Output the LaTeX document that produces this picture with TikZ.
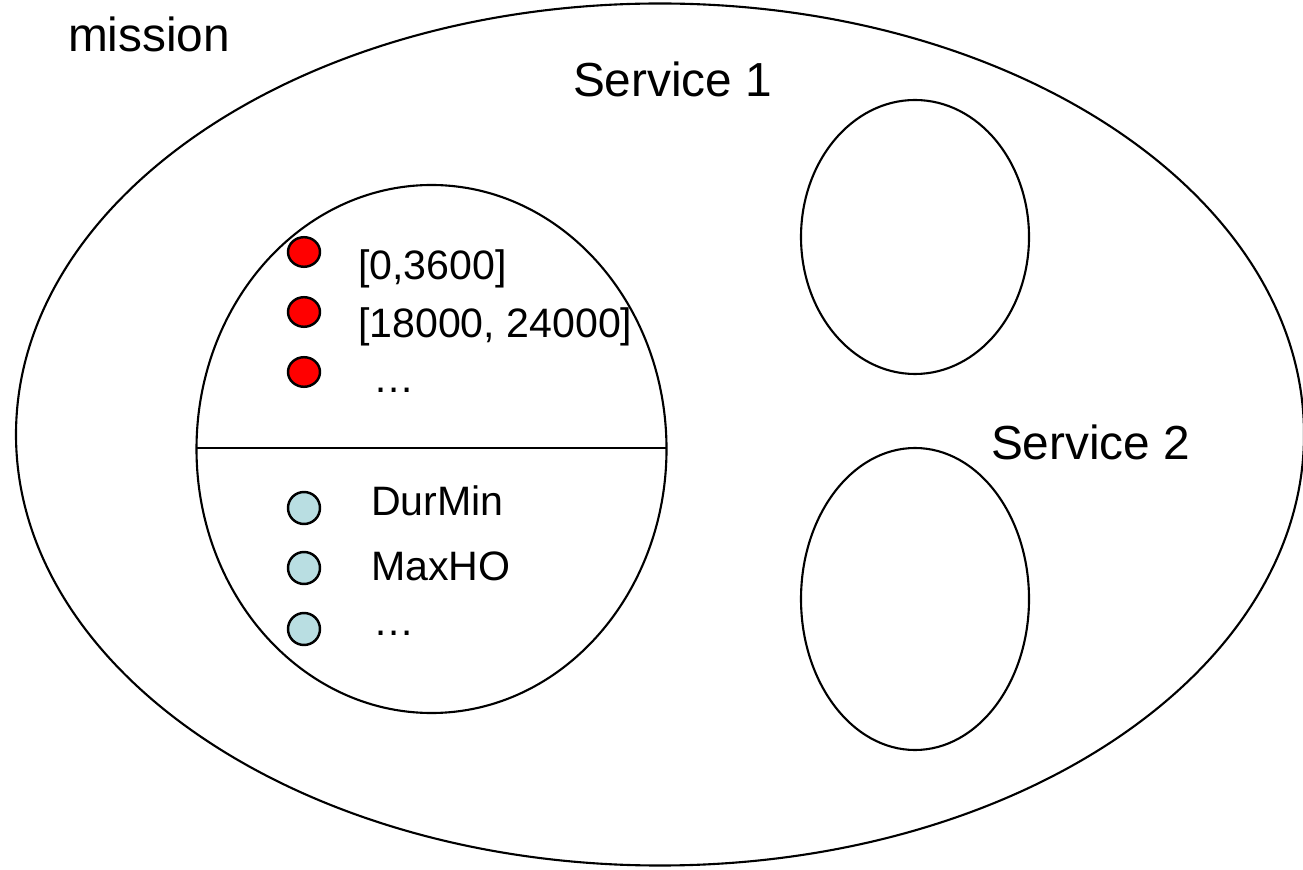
\documentclass[tikz,border=0pt]{standalone}
\usepackage{fontspec}
\setmainfont{Liberation Sans}
\usepackage{tikz}
\definecolor{lightcyan}{RGB}{185,222,226}
\tikzset{
  txt/.style={font=\fontsize{13.6}{16}\selectfont, inner sep=0pt},
  item/.style={font=\fontsize{11.7}{14}\selectfont, inner sep=0pt},
  reddot/.style={fill=red, draw=black, line width=0.7pt},
  bluedot/.style={fill=lightcyan, draw=black, line width=0.7pt}
}

\begin{document}
\begin{tikzpicture}[line width=0.6pt]
          \useasboundingbox (0,0) rectangle (13.03,8.69);
          % mission
          \draw (6.60,4.345) ellipse [x radius=6.44, y radius=4.31];
          \node[txt, anchor=base west] (mission) at (0.67,8.17) {mission};
          % service 1
          \draw (4.315,4.20) ellipse [x radius=2.35, y radius=2.64];
          \draw (1.965,4.21) -- (6.665,4.21);
          \node[txt, anchor=base west] (service1) at (5.72,7.72) {Service 1};
          % time windows
          \filldraw[reddot] (3.04,6.17) ellipse [x radius=0.16, y radius=0.148];
          \filldraw[reddot] (3.04,5.57) ellipse [x radius=0.16, y radius=0.148];
          \filldraw[reddot] (3.04,4.97) ellipse [x radius=0.16, y radius=0.148];
          \node[item, anchor=base west] (win1) at (3.57,5.89) {[0,3600]};
          \node[item, anchor=base west] (win2) at (3.57,5.31) {[18000, 24000]};
          \node[item, anchor=base west] (win3) at (3.72,4.76) {\dots};
          % constraints
          \filldraw[bluedot] (3.04,3.61) circle [radius=0.16];
          \filldraw[bluedot] (3.04,3.01) circle [radius=0.16];
          \filldraw[bluedot] (3.04,2.40) circle [radius=0.16];
          \node[item, anchor=base west] (durmin) at (3.70,3.54) {DurMin};
          \node[item, anchor=base west] (maxho) at (3.70,2.89) {MaxHO};
          \node[item, anchor=base west] (cons3) at (3.72,2.34) {\dots};
          % service 2
          \draw (9.15,6.32) ellipse [x radius=1.14, y radius=1.37];
          \draw (9.15,2.70) ellipse [x radius=1.14, y radius=1.51];
          \node[txt, anchor=base west] (service2) at (9.90,4.09) {Service 2};
        \end{tikzpicture}
\end{document}
